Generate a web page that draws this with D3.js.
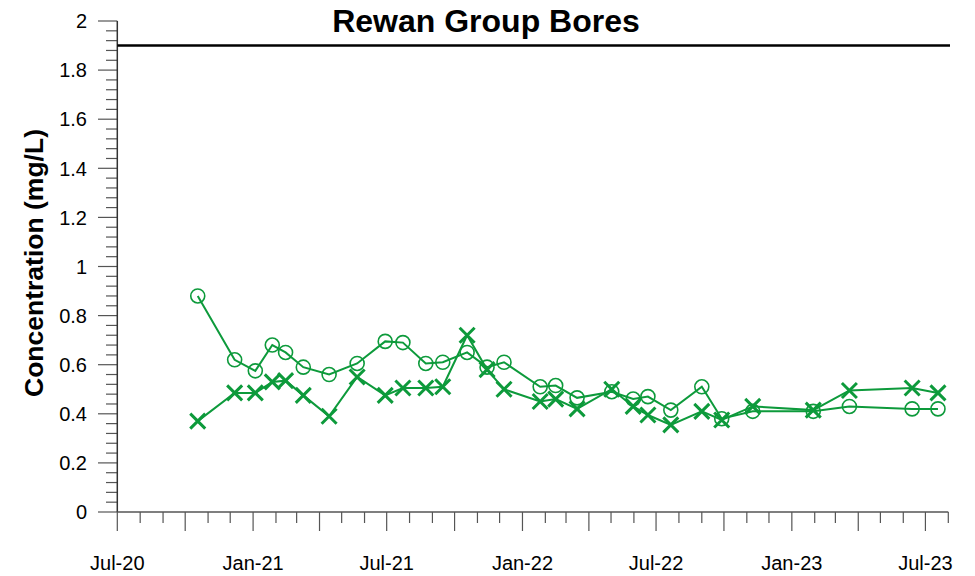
<!DOCTYPE html>
<meta charset="utf-8">
<style>
    body { margin: 0; background: #fff; }
    text { font-family: "Liberation Sans", Arial, sans-serif; fill: #000; }
    .tick-label { font-size: 20px; }
    .title { font-size: 32px; font-weight: bold; }
    .ylab { font-size: 26.5px; font-weight: bold; }
</style>
<body>
<script src="https://cdn.jsdelivr.net/npm/d3@7"></script>
<script>
    // sample dates shared by both bores
    var sampleDates = ["2020-10-18", "2020-12-07", "2021-01-04", "2021-01-27", "2021-02-14", "2021-03-10",
        "2021-04-14", "2021-05-22", "2021-06-29", "2021-07-23", "2021-08-23", "2021-09-15", "2021-10-18",
        "2021-11-14", "2021-12-07", "2022-01-25", "2022-02-15", "2022-03-16", "2022-05-02", "2022-05-31",
        "2022-06-20", "2022-07-21", "2022-09-01", "2022-09-28", "2022-11-09", "2023-01-30", "2023-03-20",
        "2023-06-13", "2023-07-18"];

    var circleVals = [0.88, 0.62, 0.575, 0.68, 0.65, 0.59, 0.56, 0.605, 0.695, 0.69, 0.605, 0.61, 0.65,
        0.59, 0.61, 0.51, 0.515, 0.465, 0.49, 0.46, 0.47, 0.415, 0.51, 0.38, 0.41, 0.41, 0.43, 0.42, 0.42];

    var crossVals = [0.37, 0.485, 0.485, 0.53, 0.535, 0.475, 0.39, 0.55, 0.475, 0.505, 0.505, 0.51, 0.72,
        0.58, 0.50, 0.45, 0.46, 0.42, 0.50, 0.43, 0.395, 0.355, 0.41, 0.375, 0.43, 0.415, 0.495, 0.505, 0.485];

    var guideline = 1.9;
    var yTickLabels = ["0", "0.2", "0.4", "0.6", "0.8", "1", "1.2", "1.4", "1.6", "1.8", "2"];
    var xTickLabels = ["Jul-20", "Jan-21", "Jul-21", "Jan-22", "Jul-22", "Jan-23", "Jul-23"];

    var width = 975, height = 576;
    var green = "#0d9a3b", axisColor = "#555";

    var parse = d3.timeParse("%Y-%m-%d");
    var dates = sampleDates.map(parse);

    var x = d3.scaleTime()
        .domain([new Date(2020, 6, 1), new Date(2023, 7, 1)])
        .range([117.3, 948.3]);
    var y = d3.scaleLinear()
        .domain([0, 2])
        .range([512, 21]);

    var svg = d3.select("body").append("svg")
        .attr("width", width)
        .attr("height", height);

    // y ticks: minor every 0.04, major every 0.2
    var yMinor = d3.range(0, 51).map(function(i) { return i * 0.04; });
    svg.append("g").selectAll("line")
        .data(yMinor)
        .enter().append("line")
        .attr("x1", function(d, i) { return i % 5 === 0 ? 98 : 106; })
        .attr("x2", x.range()[0])
        .attr("y1", function(d) { return y(d); })
        .attr("y2", function(d) { return y(d); })
        .style("stroke", axisColor)
        .style("stroke-width", 1.2);

    svg.append("g").selectAll("text")
        .data(yTickLabels)
        .enter().append("text")
        .attr("class", "tick-label")
        .attr("x", 87)
        .attr("y", function(d) { return y(+d); })
        .attr("dy", "0.36em")
        .attr("text-anchor", "end")
        .text(function(d) { return d; });

    // x ticks: monthly minor, quarterly longer
    var months = d3.timeMonth.range(x.domain()[0], d3.timeDay.offset(x.domain()[1], 1));
    svg.append("g").selectAll("line")
        .data(months)
        .enter().append("line")
        .attr("x1", function(d) { return x(d); })
        .attr("x2", function(d) { return x(d); })
        .attr("y1", y(0))
        .attr("y2", function(d) { return d.getMonth() % 3 === 0 ? 531 : 523; })
        .style("stroke", axisColor)
        .style("stroke-width", 1.2);

    var labelDates = months.filter(function(d) { return d.getMonth() % 6 === 0; });
    svg.append("g").selectAll("text")
        .data(labelDates)
        .enter().append("text")
        .attr("class", "tick-label")
        .attr("x", function(d) { return x(d); })
        .attr("y", 570)
        .attr("text-anchor", "middle")
        .text(function(d, i) { return xTickLabels[i]; });

    // axis lines
    svg.append("line")
        .attr("x1", x.range()[0]).attr("x2", x.range()[0])
        .attr("y1", y(2)).attr("y2", y(0))
        .style("stroke", "#333").style("stroke-width", 1.5);
    svg.append("line")
        .attr("x1", x.range()[0]).attr("x2", x.range()[1])
        .attr("y1", y(0)).attr("y2", y(0))
        .style("stroke", axisColor).style("stroke-width", 1.5);

    // guideline
    svg.append("line")
        .attr("x1", x.range()[0]).attr("x2", 950)
        .attr("y1", y(guideline)).attr("y2", y(guideline))
        .style("stroke", "#000").style("stroke-width", 2.5);

    var line = d3.line()
        .x(function(d) { return x(d.date); })
        .y(function(d) { return y(d.v); });

    var circleData = dates.map(function(d, i) { return {date: d, v: circleVals[i]}; });
    var crossData = dates.map(function(d, i) { return {date: d, v: crossVals[i]}; });

    svg.append("path")
        .datum(circleData)
        .attr("d", line)
        .style("fill", "none")
        .style("stroke", green)
        .style("stroke-width", 2);

    svg.append("path")
        .datum(crossData)
        .attr("d", line)
        .style("fill", "none")
        .style("stroke", green)
        .style("stroke-width", 2);

    svg.append("g").selectAll("circle")
        .data(circleData)
        .enter().append("circle")
        .attr("cx", function(d) { return x(d.date); })
        .attr("cy", function(d) { return y(d.v); })
        .attr("r", 7)
        .style("fill", "none")
        .style("stroke", green)
        .style("stroke-width", 1.6);

    svg.append("g").selectAll("path")
        .data(crossData)
        .enter().append("path")
        .attr("transform", function(d) { return "translate(" + x(d.date) + "," + y(d.v) + ")"; })
        .attr("d", "M-7.5,-7.5L7.5,7.5M-7.5,7.5L7.5,-7.5")
        .style("fill", "none")
        .style("stroke", green)
        .style("stroke-width", 3);

    svg.append("text")
        .attr("class", "title")
        .attr("x", 486)
        .attr("y", 32)
        .attr("text-anchor", "middle")
        .text("Rewan Group Bores");

    svg.append("text")
        .attr("class", "ylab")
        .attr("transform", "translate(43,263) rotate(-90)")
        .attr("text-anchor", "middle")
        .text("Concentration (mg/L)");
</script>
</body>
